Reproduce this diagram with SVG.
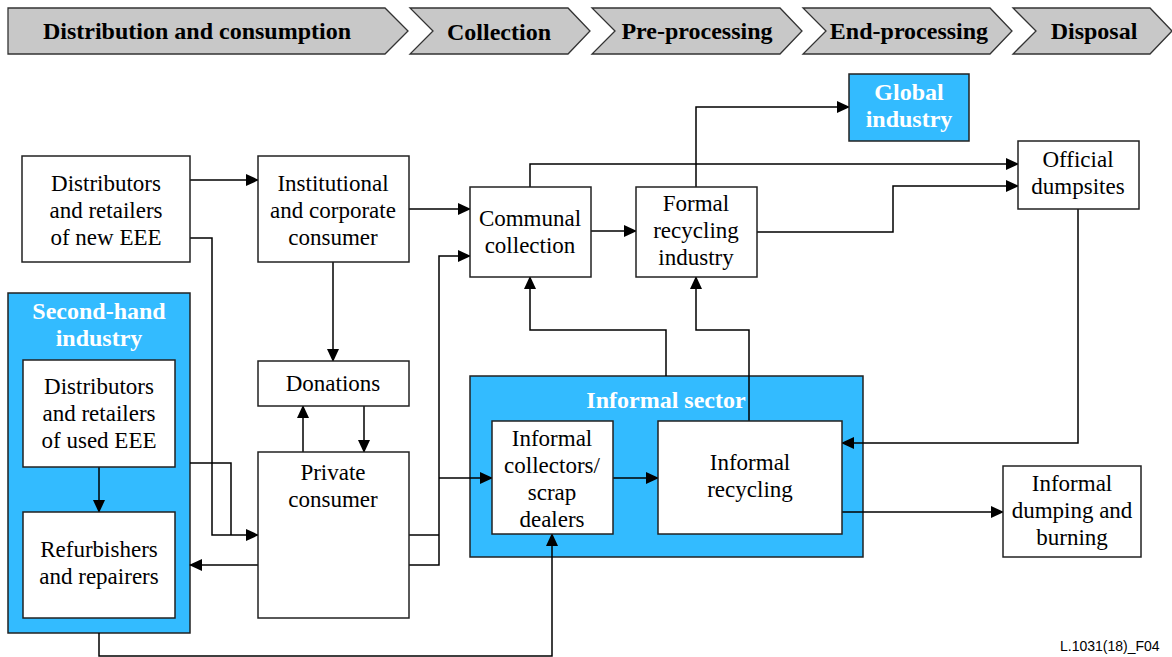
<svg xmlns="http://www.w3.org/2000/svg" width="1172" height="657" viewBox="0 0 1172 657" font-family="'Liberation Serif', 'Times New Roman', 'DejaVu Serif', serif">
<style>
.bn{fill:#c8c8c8;stroke:#333;stroke-width:1.3}
.bt{font-weight:bold;font-size:24px;fill:#000;text-anchor:middle}
.box{fill:#fff;stroke:#222;stroke-width:1.5}
.blue{fill:#33bbff;stroke:#222;stroke-width:1.5}
.t{font-size:23px;fill:#000;text-anchor:middle}
.wt{font-weight:bold;font-size:24px;fill:#fff;text-anchor:middle}
.c{fill:none;stroke:#000;stroke-width:1.5}
.a{marker-end:url(#ah)}
</style>
<defs>
<marker id="ah" markerUnits="userSpaceOnUse" markerWidth="13" markerHeight="12" refX="12" refY="6" orient="auto"><path d="M0,0 L13,6 L0,12 z" fill="#000"/></marker>
</defs>
<rect width="1172" height="657" fill="#fff"/>
<g id="banner">
<polygon class="bn" points="8,8 385,8 408,31 385,54 8,54"/>
<polygon class="bn" points="410,8 568,8 590,31 568,54 410,54 433,31"/>
<polygon class="bn" points="592,8 780,8 802,31 780,54 592,54 615,31"/>
<polygon class="bn" points="803,8 990,8 1012,31 990,54 803,54 826,31"/>
<polygon class="bn" points="1013,8 1150,8 1172,31 1150,54 1013,54 1036,31"/>
<text class="bt" x="197" y="39">Distribution and consumption</text>
<text class="bt" x="499" y="40">Collection</text>
<text class="bt" x="697" y="39">Pre-processing</text>
<text class="bt" x="909" y="39">End-processing</text>
<text class="bt" x="1094" y="39">Disposal</text>
</g>
<g id="second-hand">
<rect class="blue" x="8" y="293" width="182" height="340"/>
<text class="wt" x="99" y="319">Second-hand</text>
<text class="wt" x="99" y="346">industry</text>
</g>
<g id="informal-sector">
<rect class="blue" x="470" y="376" width="393" height="181"/>
<text class="wt" x="666" y="408">Informal sector</text>
</g>
<g id="connectors">
<path class="c a" d="M190,180 H258"/>
<path class="c a" d="M190,238 H212 V535 H258"/>
<path class="c" d="M190,463 H231 V535"/>
<path class="c a" d="M409,209 H470"/>
<path class="c a" d="M333,262 V361"/>
<path class="c a" d="M530,187 V164 H1018"/>
<path class="c a" d="M591,231 H636"/>
<path class="c a" d="M696,187 V107 H849"/>
<path class="c a" d="M757,232 H893 V186 H1018"/>
<path class="c a" d="M1078,209 V443 H842"/>
<path class="c a" d="M842,512 H1003"/>
<path class="c a" d="M613,478 H658"/>
<path class="c a" d="M666,376 V330 H530 V277"/>
<path class="c a" d="M749,421 V330 H696 V277"/>
<path class="c a" d="M303,452 V406"/>
<path class="c a" d="M364,406 V452"/>
<path class="c a" d="M258,565 H190"/>
<path class="c" d="M409,535 H439"/>
<path class="c a" d="M409,565 H439 V256 H470"/>
<path class="c a" d="M439,478 H492"/>
<path class="c a" d="M99,633 V656 H552 V534"/>
<path class="c a" d="M99,467 V512"/>
</g>
<g id="dist-new">
<rect class="box" x="22" y="156" width="168" height="106"/>
<text class="t" x="106" y="191">Distributors</text>
<text class="t" x="106" y="218">and retailers</text>
<text class="t" x="106" y="245">of new EEE</text>
</g>
<g id="institutional">
<rect class="box" x="258" y="156" width="151" height="106"/>
<text class="t" x="333" y="191">Institutional</text>
<text class="t" x="333" y="218">and corporate</text>
<text class="t" x="333" y="245">consumer</text>
</g>
<g id="communal">
<rect class="box" x="470" y="187" width="121" height="90"/>
<text class="t" x="530" y="226">Communal</text>
<text class="t" x="530" y="253">collection</text>
</g>
<g id="formal">
<rect class="box" x="636" y="187" width="121" height="90"/>
<text class="t" x="696" y="211">Formal</text>
<text class="t" x="696" y="238">recycling</text>
<text class="t" x="696" y="265">industry</text>
</g>
<g id="global">
<rect class="blue" x="849" y="74" width="120" height="67"/>
<text class="wt" x="909" y="100">Global</text>
<text class="wt" x="909" y="127">industry</text>
</g>
<g id="official">
<rect class="box" x="1018" y="141" width="121" height="68"/>
<text class="t" x="1078" y="167">Official</text>
<text class="t" x="1078" y="194">dumpsites</text>
</g>
<g id="dist-used">
<rect class="box" x="23" y="360" width="152" height="107"/>
<text class="t" x="99" y="394">Distributors</text>
<text class="t" x="99" y="421">and retailers</text>
<text class="t" x="99" y="448">of used EEE</text>
</g>
<g id="refurbishers">
<rect class="box" x="23" y="512" width="152" height="106"/>
<text class="t" x="99" y="557">Refurbishers</text>
<text class="t" x="99" y="584">and repairers</text>
</g>
<g id="donations">
<rect class="box" x="258" y="361" width="151" height="45"/>
<text class="t" x="333" y="391">Donations</text>
</g>
<g id="private">
<rect class="box" x="258" y="452" width="151" height="166"/>
<text class="t" x="333" y="480">Private</text>
<text class="t" x="333" y="507">consumer</text>
</g>
<g id="informal-collectors">
<rect class="box" x="492" y="421" width="121" height="113"/>
<text class="t" x="552" y="446">Informal</text>
<text class="t" x="552" y="473">collectors/</text>
<text class="t" x="552" y="500">scrap</text>
<text class="t" x="552" y="527">dealers</text>
</g>
<g id="informal-recycling">
<rect class="box" x="658" y="421" width="184" height="113"/>
<text class="t" x="750" y="470">Informal</text>
<text class="t" x="750" y="497">recycling</text>
</g>
<g id="informal-dumping">
<rect class="box" x="1003" y="466" width="138" height="91"/>
<text class="t" x="1072" y="491">Informal</text>
<text class="t" x="1072" y="518">dumping and</text>
<text class="t" x="1072" y="545">burning</text>
</g>
<text x="1060" y="651" font-family="'Liberation Sans', Arial, sans-serif" font-size="14" fill="#000">L.1031(18)_F04</text>
</svg>
